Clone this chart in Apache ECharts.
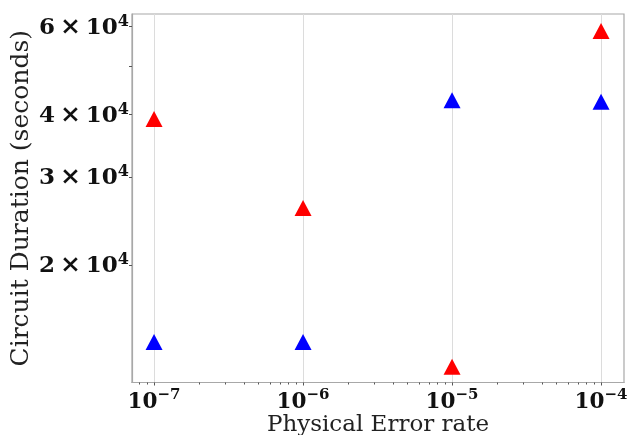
<!DOCTYPE html>
<html>
<head>
<meta charset="utf-8">
<script src="https://cdn.jsdelivr.net/npm/echarts@6/dist/echarts.min.js"></script>
<style>html,body{margin:0;padding:0;background:#fff;}#c{width:632px;height:435px;}</style>
</head>
<body>
<div id="c"></div>
<script>
// ---- data ----
var errorRates = [1e-7, 1e-6, 1e-5, 1e-4];
var redDurations = [39200, 26000, 12500, 58800];
var blueDurations = [14000, 14000, 42700, 42450];
// ---- ticks ----
var xTicks = [1e-7, 1e-6, 1e-5, 1e-4];
var xTickExponents = ['\u22127', '\u22126', '\u22125', '\u22124'];
var yTicks = [20000, 30000, 40000, 60000];
var yTickMantissas = ['2', '3', '4', '6'];
var yTickExponent = '4';
var yTickMarks = [20000, 30000, 40000, 50000, 60000];
var xMinorMultipliers = [2, 3, 4, 5, 6, 7, 8, 9];
var xDecades = [1e-8, 1e-7, 1e-6, 1e-5, 1e-4];

var xMin = Math.pow(10, -7.148), xMax = Math.pow(10, -3.846);
var yMin = 11620, yMax = 63600;

var xMinor = [];
xDecades.forEach(function (d) {
  xMinorMultipliers.forEach(function (m) {
    var v = d * m;
    if (v > xMin && v < xMax) xMinor.push(v);
  });
});

function nearestIndex(arr, v) {
  var best = 0, bd = Infinity;
  for (var i = 0; i < arr.length; i++) {
    var d = Math.abs(Math.log(arr[i]) - Math.log(v));
    if (d < bd) { bd = d; best = i; }
  }
  return best;
}

function pairs(xs, ys) { return xs.map(function (x, i) { return [x, ys[i]]; }); }

var serif = 'DejaVu Serif';
var frameColor = '#a8a8a8';

var chart = echarts.init(document.getElementById('c'), null, {renderer: 'canvas'});
chart.setOption({
  animation: false,
  backgroundColor: '#fff',
  grid: {
    left: 132, right: 8, top: 14, bottom: 52.5,
    show: true, borderColor: frameColor, borderWidth: 1.2,
    outerBoundsMode: 'none'
  },
  xAxis: [{
    type: 'log', min: xMin, max: xMax,
    name: 'Physical Error rate', nameLocation: 'middle', nameGap: 31, nameMoveOverlap: false,
    nameTextStyle: {fontFamily: serif, fontSize: 23, color: '#222'},
    axisLine: {show: true, onZero: false, lineStyle: {color: frameColor, width: 1.2}},
    axisTick: {show: true, customValues: xTicks, length: 3, lineStyle: {color: '#555'}},
    axisLabel: {
      customValues: xTicks, margin: 5,
      formatter: function (v) { return '{b|10}{s|' + xTickExponents[nearestIndex(xTicks, v)] + '}'; },
      rich: {
        b: {fontFamily: serif, fontWeight: 'bold', fontSize: 21.5, color: '#111', lineHeight: 26, verticalAlign: 'bottom'},
        s: {fontFamily: serif, fontWeight: 'bold', fontSize: 15, color: '#111', lineHeight: 15, verticalAlign: 'top'}
      }
    },
    splitLine: {show: true, lineStyle: {color: '#dcdcdc', width: 1}}
  }, {
    type: 'log', min: xMin, max: xMax, position: 'bottom',
    axisLine: {show: false},
    axisTick: {show: true, customValues: xMinor, length: 2, lineStyle: {color: '#555'}},
    axisLabel: {show: false},
    splitLine: {show: false}
  }],
  yAxis: {
    type: 'log', min: yMin, max: yMax,
    name: 'Circuit Duration (seconds)', nameLocation: 'middle', nameGap: 98, nameMoveOverlap: false,
    nameTextStyle: {fontFamily: serif, fontSize: 25, color: '#222'},
    axisLine: {show: true, lineStyle: {color: frameColor, width: 1.2}},
    axisTick: {show: true, customValues: yTickMarks, length: 3, lineStyle: {color: '#555'}},
    axisLabel: {
      customValues: yTicks, margin: 3,
      formatter: function (v) {
        var i = nearestIndex(yTicks, v);
        return '{b|' + yTickMantissas[i] + '}{x|\u00d7}{b|10}{s|' + yTickExponent + '}';
      },
      rich: {
        b: {fontFamily: serif, fontWeight: 'bold', fontSize: 23, color: '#111', lineHeight: 26, verticalAlign: 'bottom'},
        x: {fontFamily: serif, fontWeight: 'bold', fontSize: 25, color: '#111', lineHeight: 26, verticalAlign: 'bottom', padding: [0, 5, 0, 5]},
        s: {fontFamily: serif, fontWeight: 'bold', fontSize: 16, color: '#111', lineHeight: 16, verticalAlign: 'top'}
      }
    },
    splitLine: {show: false}
  },
  series: [{
    type: 'scatter', xAxisIndex: 0,
    symbol: 'triangle', symbolSize: [17, 16],
    itemStyle: {color: '#ff0000', opacity: 1},
    data: pairs(errorRates, redDurations)
  }, {
    type: 'scatter', xAxisIndex: 0,
    symbol: 'triangle', symbolSize: [17, 16],
    itemStyle: {color: '#0000ff', opacity: 1},
    data: pairs(errorRates, blueDurations)
  }]
});
</script>
</body>
</html>
